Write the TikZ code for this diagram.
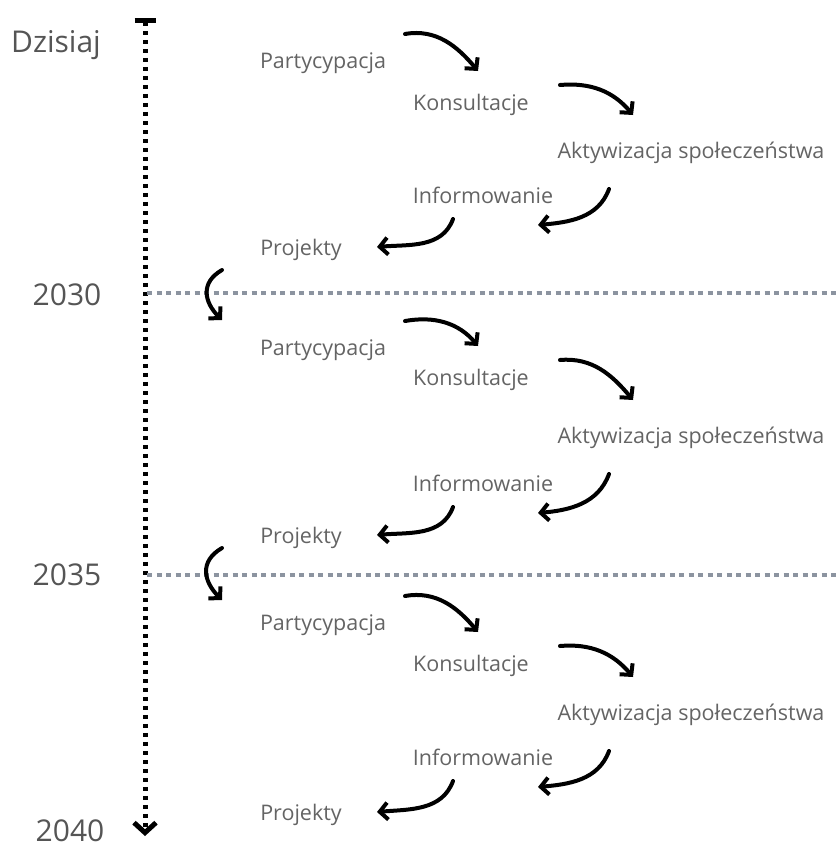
\documentclass[tikz,border=0pt]{standalone}
\usepackage{fontspec}
\setmainfont{Open Sans}
\usetikzlibrary{arrows.meta}

\definecolor{inkgray}{RGB}{100,100,100}
\definecolor{sepgray}{RGB}{140,148,160}

\begin{document}
\begin{tikzpicture}[x=1pt,y=1pt,
  stage/.style={text=inkgray,font=\fontsize{21.5}{25}\selectfont,inner sep=0pt,anchor=base},
  year/.style={text=inkgray!85!black,font=\fontsize{30}{36}\selectfont,inner sep=0pt,anchor=base},
  flow/.style={-{Straight Barb[length=8pt,width=17pt]},line width=4pt,line cap=round,line join=round},
  sep/.style={sepgray,line width=4pt,dash pattern=on 5pt off 4.5pt},
  axis/.style={{Bar[width=21pt]}-{Straight Barb[length=10pt,width=22pt]},line width=5pt,dash pattern=on 4.5pt off 4.5pt}
]
\useasboundingbox (0,0) rectangle (836,-849);

% define nodes

% timeline
\coordinate (tstart) at (145,-18);
\coordinate (tend) at (145,-836);
\coordinate (l30) at (147,-293);
\coordinate (l35) at (147,-575);
\coordinate (r30) at (836,-293);
\coordinate (r35) at (836,-575);

\node[year] (today) at (56,-52) {Dzisiaj};
\node[year] (y30) at (67,-305) {2030};
\node[year] (y35) at (67,-585) {2035};
\node[year] (y40) at (70,-841) {2040};

% first period
\node[stage] (p1) at (323,-68) {Partycypacja};
\node[stage] (k1) at (471,-110) {Konsultacje};
\node[stage] (a1) at (691,-158) {Aktywizacja społeczeństwa};
\node[stage] (i1) at (483,-203) {Informowanie};
\node[stage] (pr1) at (301,-255) {Projekty};
% second period
\node[stage] (p2) at (323,-355) {Partycypacja};
\node[stage] (k2) at (471,-385) {Konsultacje};
\node[stage] (a2) at (691,-443) {Aktywizacja społeczeństwa};
\node[stage] (i2) at (483,-491) {Informowanie};
\node[stage] (pr2) at (301,-543) {Projekty};
% third period
\node[stage] (p3) at (323,-630) {Partycypacja};
\node[stage] (k3) at (471,-671) {Konsultacje};
\node[stage] (a3) at (691,-720) {Aktywizacja społeczeństwa};
\node[stage] (i3) at (483,-765) {Informowanie};
\node[stage] (pr3) at (301,-820) {Projekty};

% edges

\draw[axis] (tstart) -- (tend);
\draw[sep] (l30) -- (r30);
\draw[sep] (l35) -- (r35);

\draw[flow] ([shift={(82,34)}]p1.base) to[out=10,in=130] ([shift={(7,39)}]k1.base);
\draw[flow] ([shift={(89,25)}]k1.base) to[out=5,in=130] ([shift={(-58,43)}]a1.base);
\draw[flow] ([shift={(-82,-31)}]a1.base) to[out=-110,in=5] ([shift={(55,-22)}]i1.base);
\draw[flow] ([shift={(-30,-16)}]i1.base) to[out=-110,in=5] ([shift={(76,8)}]pr1.base);
\draw[flow] ([shift={(-79,-15)}]pr1.base) to[out=210,in=135,looseness=1.3] ([shift={(-101,35)}]p2.base);

\draw[flow] ([shift={(82,34)}]p2.base) to[out=10,in=130] ([shift={(7,39)}]k2.base);
\draw[flow] ([shift={(89,25)}]k2.base) to[out=5,in=130] ([shift={(-58,43)}]a2.base);
\draw[flow] ([shift={(-82,-31)}]a2.base) to[out=-110,in=5] ([shift={(55,-22)}]i2.base);
\draw[flow] ([shift={(-30,-16)}]i2.base) to[out=-110,in=5] ([shift={(76,8)}]pr2.base);
\draw[flow] ([shift={(-79,-5)}]pr2.base) to[out=210,in=135,looseness=1.3] ([shift={(-101,30)}]p3.base);

\draw[flow] ([shift={(82,34)}]p3.base) to[out=10,in=130] ([shift={(7,39)}]k3.base);
\draw[flow] ([shift={(89,25)}]k3.base) to[out=5,in=130] ([shift={(-58,43)}]a3.base);
\draw[flow] ([shift={(-82,-31)}]a3.base) to[out=-110,in=5] ([shift={(55,-22)}]i3.base);
\draw[flow] ([shift={(-30,-16)}]i3.base) to[out=-110,in=5] ([shift={(76,8)}]pr3.base);

\end{tikzpicture}
\end{document}
